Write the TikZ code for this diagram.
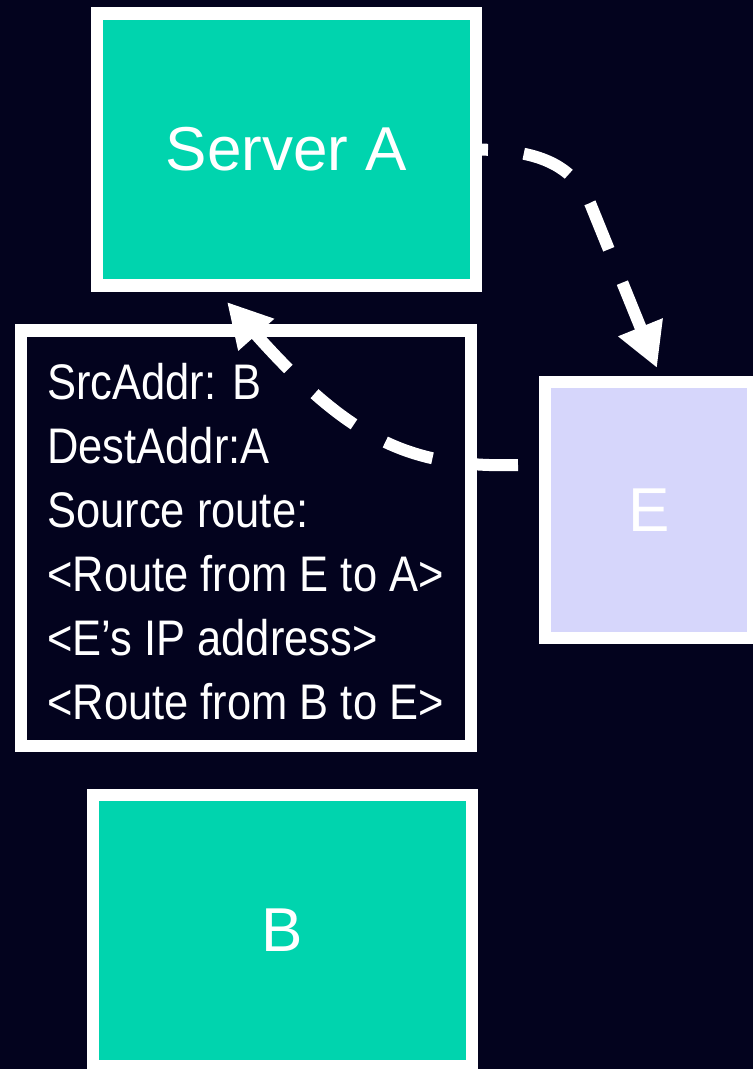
\documentclass[tikz,border=0pt]{standalone}
\usepackage{fontspec}
\setmainfont{Liberation Sans}
\newfontfamily\pktfont[FakeStretch=0.87]{Liberation Sans}
\usetikzlibrary{arrows.meta}
\definecolor{bgnavy}{RGB}{3,3,30}
\definecolor{hostteal}{RGB}{0,212,174}
\definecolor{relaylav}{RGB}{214,214,251}
\tikzset{
  hostbox/.style={draw=white, line width=12.5pt, fill=hostteal, text=white,
    inner sep=0pt, outer sep=0pt, minimum width=379pt, minimum height=272pt,
    font=\fontsize{62}{62}\selectfont},
  relaybox/.style={hostbox, fill=relaylav, minimum width=208pt, minimum height=256pt},
  pktbox/.style={draw=white, line width=12.5pt, fill=bgnavy, inner sep=0pt,
    outer sep=0pt, minimum width=450pt, minimum height=415.5pt},
  pktline/.style={text=white, inner sep=0pt, anchor=base west,
    font=\pktfont\fontsize{50}{50}\selectfont},
  hop/.style={draw=white, line width=12pt, dash pattern=on 50pt off 36pt,
    -{Triangle[length=44pt, width=45pt]}}
}
\begin{document}
\begin{tikzpicture}[x=1pt, y=-1pt]
  \useasboundingbox (0,0) rectangle (753,1069);
  \clip (0,0) rectangle (753,1069);
  \fill[bgnavy] (0,0) rectangle (753,1069);

  % hosts
  \node[hostbox] (A) at (286.5,149.5) {Server A};
  \node[relaybox] (E) at (649,510) {E};
  \node[hostbox, minimum height=271pt] (B) at (282.5,930.5) {B};

  % packet header carried from B towards A
  \node[pktbox] (pkt) at (246,538.25) {};
  \node[pktline] (l1) at (47,399) {SrcAddr: B};
  \node[pktline] (l2) at (47,463) {DestAddr:A};
  \node[pktline] (l3) at (47,527) {Source route:};
  \node[pktline] (l4) at (47,591) {<Route from E to A>};
  \node[pktline] (l5) at (47,655) {<E’s IP address>};
  \node[pktline] (l6) at (47,719) {<Route from B to E>};

  % forwarding hops
  \draw[hop, dash phase=38pt] (A.east)
    .. controls (530,150) and (570,160) .. (590,203)
    -- ([xshift=8pt, yshift=14pt]E.north);
  \draw[hop] ([xshift=-27pt, yshift=45pt]E.west)
    .. controls (410,468) and (350,440) ..
    ([xshift=-59.5pt, yshift=-16.5pt]A.south);
\end{tikzpicture}
\end{document}
